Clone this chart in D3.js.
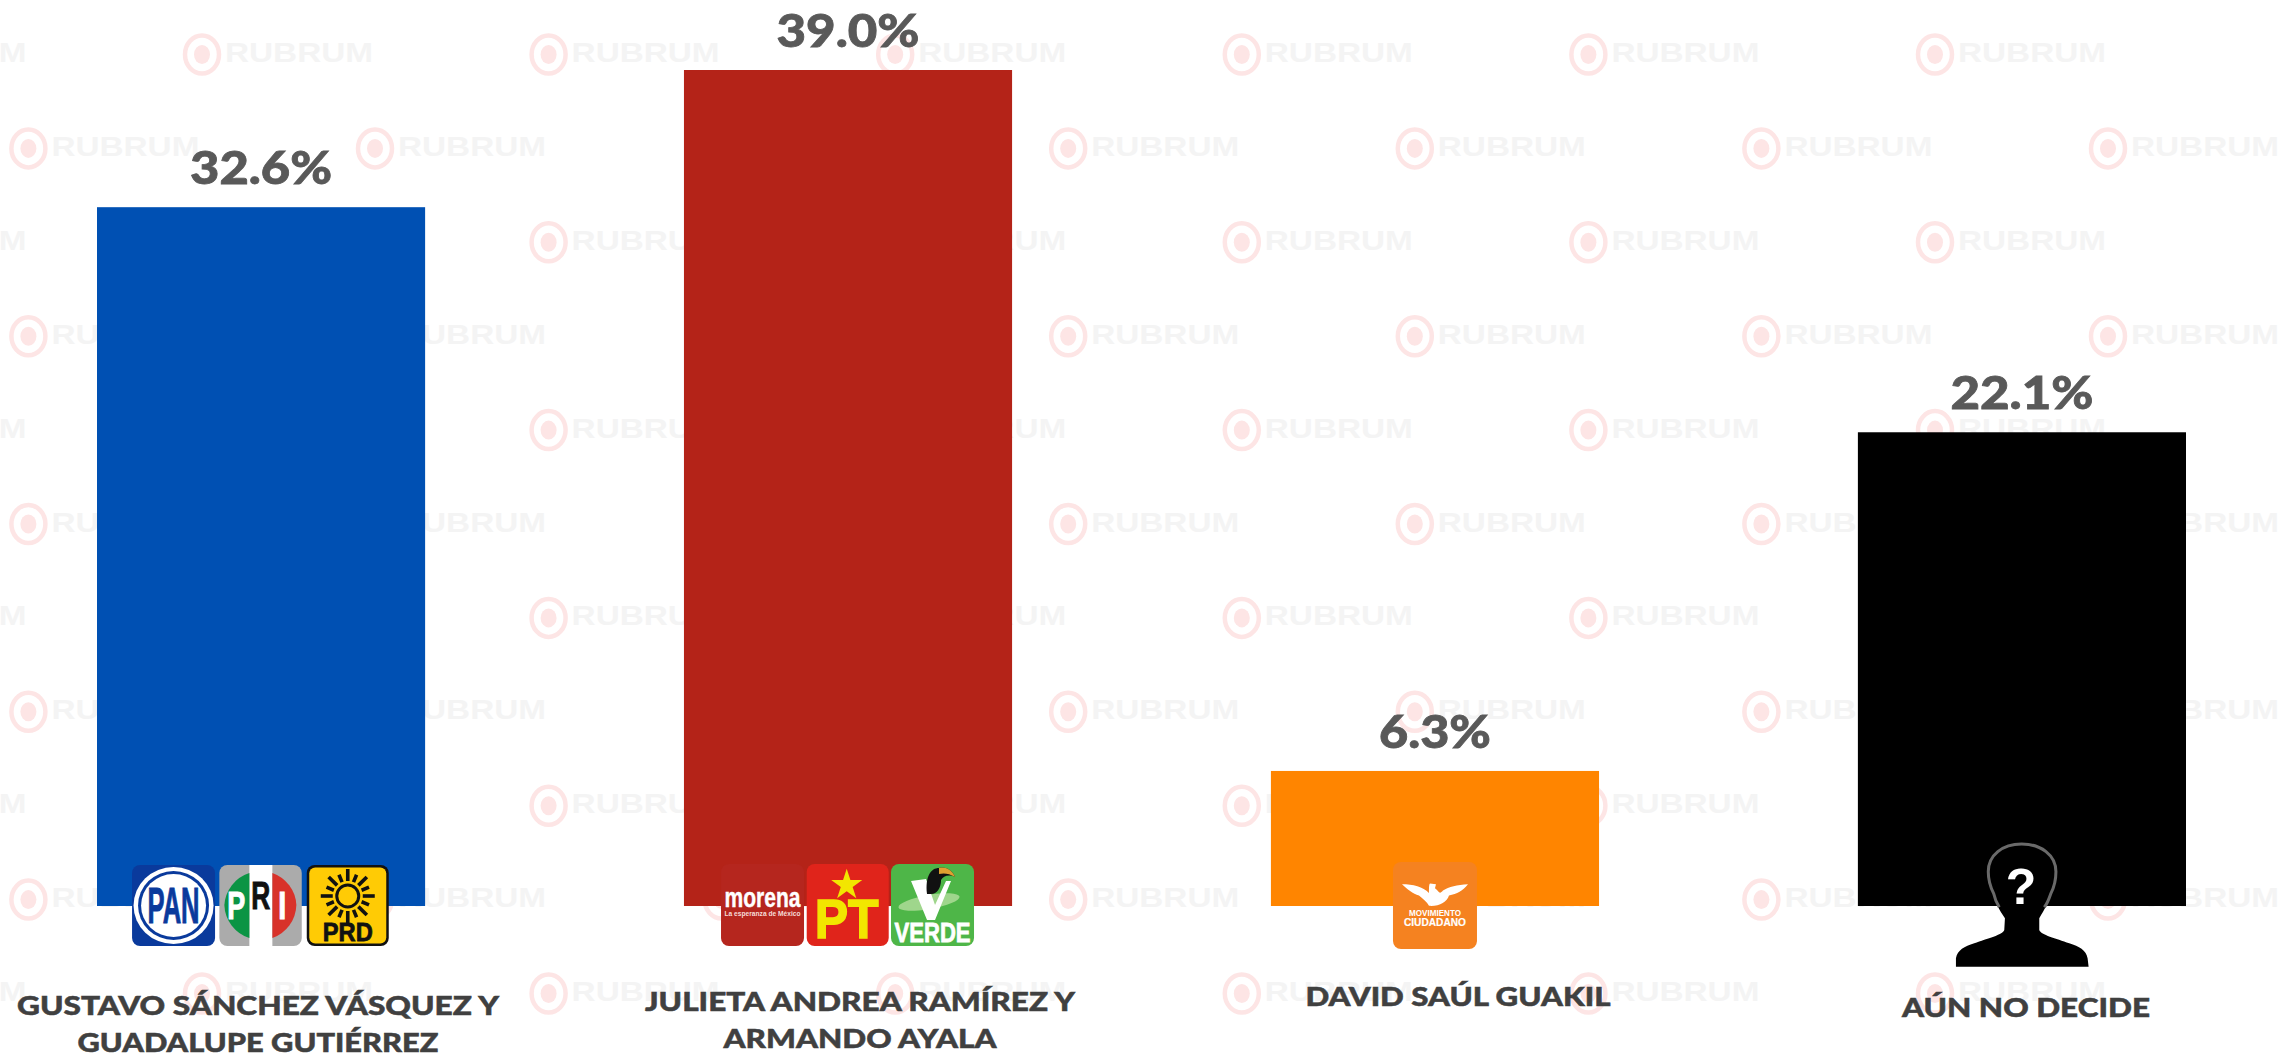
<!DOCTYPE html>
<html lang="es">
<head>
<meta charset="utf-8">
<script src="https://cdn.jsdelivr.net/npm/d3@7/dist/d3.min.js"></script>
<style>
html,body{margin:0;padding:0;background:#fff;overflow:hidden}
svg{display:block}
text{font-family:Lato,"Open Sans",sans-serif}
</style>
</head>
<body>
<svg id="chart" width="2284" height="1055"></svg>
<script>
const categories = [["GUSTAVO SÁNCHEZ VÁSQUEZ Y","GUADALUPE GUTIÉRREZ"],["JULIETA ANDREA RAMÍREZ Y","ARMANDO AYALA"],["DAVID SAÚL GUAKIL"],["AÚN NO DECIDE"]];
const values = [32.6,39.0,6.3,22.1];
const barColors = ["#0050b3","#b42318","#ff8500","#000000"];
const valueLabels = ["32.6%","39.0%","6.3%","22.1%"];
const watermarkText = "RUBRUM";

const W=2284,H=1055;
const svg=d3.select("#chart");
const x=d3.scaleBand().domain(d3.range(values.length)).range([97,2186]).paddingInner(0.441).paddingOuter(0);
const y=d3.scaleLinear().domain([0,39]).range([906,70]);

// watermark grid
const wm=svg.append("g");
d3.range(-1,6).forEach(c=>d3.range(0,11).forEach(r=>{
  const cx=(r%2===0?202:375)+c*346.6, cy=54.5+r*93.9;
  const g=wm.append("g").attr("transform",`translate(${cx},${cy})`);
  g.append("ellipse").attr("rx",17).attr("ry",19).attr("fill","none").attr("stroke","#fde5e5").attr("stroke-width",4.5);
  g.append("ellipse").attr("rx",8).attr("ry",9.5).attr("fill","#fde5e5");
  g.append("text").attr("x",23).attr("y",7.5).attr("font-size",28).attr("font-weight",700)
   .attr("textLength",148).attr("lengthAdjust","spacingAndGlyphs")
   .style("font-family","'Liberation Sans',sans-serif").attr("fill","#f4f4f4").text(watermarkText);
}));

// bars
svg.append("g").selectAll("rect").data(values).join("rect")
  .attr("x",(d,i)=>x(i)).attr("width",x.bandwidth())
  .attr("y",d=>y(d)).attr("height",d=>y(0)-y(d))
  .attr("fill",(d,i)=>barColors[i]);

// value labels
const valueFit=[142,143,112,143];
svg.append("g").selectAll("text").data(values).join("text")
  .attr("x",(d,i)=>x(i)+x.bandwidth()/2).attr("y",d=>y(d)-23)
  .attr("text-anchor","middle").attr("font-size",46).attr("font-weight",900).attr("fill","#595959")
  .attr("stroke","#595959").attr("stroke-width",0.8)
  .attr("textLength",(d,i)=>valueFit[i]).attr("lengthAdjust","spacingAndGlyphs")
  .text((d,i)=>valueLabels[i]);

// category labels
const labelCenters=[258,860,1458,2026], labelBase=[1015,1011,1006,1017], labelLead=37;
const labelFit=[[482,361],[430,273],[305],[248]];
categories.forEach((lines,i)=>lines.forEach((t,j)=>{
  svg.append("text").attr("x",labelCenters[i]).attr("y",labelBase[i]+j*labelLead)
   .attr("text-anchor","middle").attr("font-size",27).attr("font-weight",900).attr("fill","#404040")
   .attr("stroke","#404040").attr("stroke-width",0.5)
   .attr("textLength",labelFit[i][j]).attr("lengthAdjust","spacingAndGlyphs").text(t);
}));

// party badges
const NARROW="'Liberation Sans Narrow','Liberation Sans',sans-serif";
function badge(cx,cy,w,h,fill){
  const g=svg.append("g").attr("transform",`translate(${cx},${cy})`);
  g.append("rect").attr("width",w).attr("height",h).attr("rx",8).attr("fill",fill);
  return g;
}
function lbl(g,t,px,py,size,fill,len,heavy){
  const e=g.append("text").attr("x",px).attr("y",py).attr("text-anchor","middle").attr("font-size",size)
    .attr("font-weight",700).attr("fill",fill).style("font-family",NARROW).text(t);
  if(len) e.attr("textLength",len).attr("lengthAdjust","spacingAndGlyphs");
  if(heavy) e.attr("stroke",fill).attr("stroke-width",heavy);
  return e;
}
const c0=x(0)+x.bandwidth()/2, c1=x(1)+x.bandwidth()/2, c2=x(2)+x.bandwidth()/2, c3=x(3)+x.bandwidth()/2;

// PAN
let g=badge(c0-129,865,83,81,"#0a3a9c");
g.append("ellipse").attr("cx",41.5).attr("cy",40.5).attr("rx",40).attr("ry",38.5).attr("fill","#fff");
g.append("ellipse").attr("cx",41.5).attr("cy",40.5).attr("rx",35.5).attr("ry",34.5).attr("fill","#0a3a9c");
g.append("ellipse").attr("cx",41.5).attr("cy",40.5).attr("rx",32.5).attr("ry",31.5).attr("fill","#fff");
lbl(g,"PAN",41.5,58,50,"#0a3a9c",52,1);

// PRI
g=badge(c0-41.7,865,82.4,81,"#ababab");
g.append("rect").attr("x",30).attr("width",23).attr("height",81).attr("fill","#fff");
g.append("path").attr("d","M30,8 A36,36 0 0 0 5,40 A36,36 0 0 0 30,73 Z").attr("fill","#0b9444");
g.append("path").attr("d","M53,8 A36,36 0 0 1 77,40 A36,36 0 0 1 53,73 Z").attr("fill","#d8322a");
lbl(g,"P",17,54,38,"#fff",18,1);
lbl(g,"R",41.5,44,38,"#111",19,1);
lbl(g,"I",63,54,38,"#fff",8,1);

// PRD
g=badge(c0+45.7,865,82,81,"#111");
g.append("rect").attr("x",2.5).attr("y",2.5).attr("width",77).attr("height",76).attr("rx",6).attr("fill","#ffcb05");
g.append("circle").attr("cx",41).attr("cy",31).attr("r",11).attr("fill","none").attr("stroke","#111").attr("stroke-width",3);
d3.range(16).forEach(k=>{
  const a=k/16*2*Math.PI, r0=15, r1=k%2?23:27;
  g.append("line").attr("x1",41+r0*Math.cos(a)).attr("y1",31+r0*Math.sin(a))
   .attr("x2",41+r1*Math.cos(a)).attr("y2",31+r1*Math.sin(a)).attr("stroke","#111").attr("stroke-width",3.6);
});
lbl(g,"PRD",41,76,26,"#111",50,0.8);

// morena
g=badge(c1-127,864,83,82,"#b5261e");
lbl(g,"morena",41.5,43,27,"#fff",76,0.4);
lbl(g,"La esperanza de México",41.5,52,8,"#f6dcd8",76);

// PT
g=badge(c1-41.3,864,82,82,"#e0241b");
g.append("path").attr("d",d3.symbol().type(d3.symbolStar).size(300)()).attr("transform","translate(40,21)").attr("fill","#f2e600");
lbl(g,"PT",40,74,56,"#f2e600",64,1.5);

// VERDE
g=badge(c1+43,864,83,82,"#4eb648");
g.append("ellipse").attr("cx",38).attr("cy",38).attr("rx",31).attr("ry",7).attr("transform","rotate(-10 38 38)").attr("fill","#9fd68c");
g.append("path").attr("d","M20,17 L35,15 L44,41 L55,17 L60,17 L44,56 L36,56 Z").attr("fill","#fff");
g.append("path").attr("d","M36,30 C34,12 40,4 48,4 C56,2 62,8 64,13 C58,10 52,12 50,16 C50,24 46,30 40,30 Z").attr("fill","#111");
g.append("path").attr("d","M48,4 C56,2 62,8 64,13 C58,9 52,9 48,10 Z").attr("fill","#e0a030");
lbl(g,"VERDE",41.5,78,28,"#fff",76,0.8);

// Movimiento Ciudadano
g=badge(c2-42,862,84,87,"#f58220");
g.append("path").attr("transform","translate(0,3) scale(1,0.8)").attr("d","M9,24 C20,24 30,27 36,35 C36,28 36,24 37,23 L43,24 L42,29 C46,32 46,38 50,32 C56,27 64,25 75,24 C70,32 64,36 56,38 C54,46 46,52 36,51 C34,46 30,42 26,38 C20,36 14,30 9,24 Z").attr("fill","#fff");
lbl(g,"MOVIMIENTO",42,54,8.5,"#fff",52);
lbl(g,"CIUDADANO",42,64,11,"#fff",62,0.2);

// undecided silhouette
svg.append("defs").append("filter").attr("id","soft").append("feGaussianBlur").attr("stdDeviation",0.7);
g=svg.append("g").attr("transform",`translate(${c3-91},830) scale(0.3333)`);
g.append("path").attr("d","M75,410 L75,385 C80,360 100,350 130,340 C170,325 215,315 220,300 L222,265 C205,240 190,215 188,190 C178,170 172,150 172,125 C172,75 215,42 272,42 C330,42 375,75 375,125 C375,150 370,170 360,190 C355,215 340,240 325,265 L325,300 C330,315 375,325 415,340 C445,350 465,360 470,385 L473,410 Z").attr("fill","#000");
g.append("path").attr("filter","url(#soft)").attr("d","M205,232 C195,215 190,200 188,190 C178,170 172,150 172,125 C172,75 215,42 272,42 C330,42 375,75 375,125 C375,150 370,170 360,190 C355,205 350,220 340,232").attr("fill","none").attr("stroke","#6a6a6a").attr("stroke-width",9);
g.append("text").attr("x",270).attr("y",222).attr("text-anchor","middle").attr("font-size",150).attr("font-weight",700).attr("fill","#fff").style("font-family","'Liberation Sans',sans-serif").text("?");
</script>
</body>
</html>
